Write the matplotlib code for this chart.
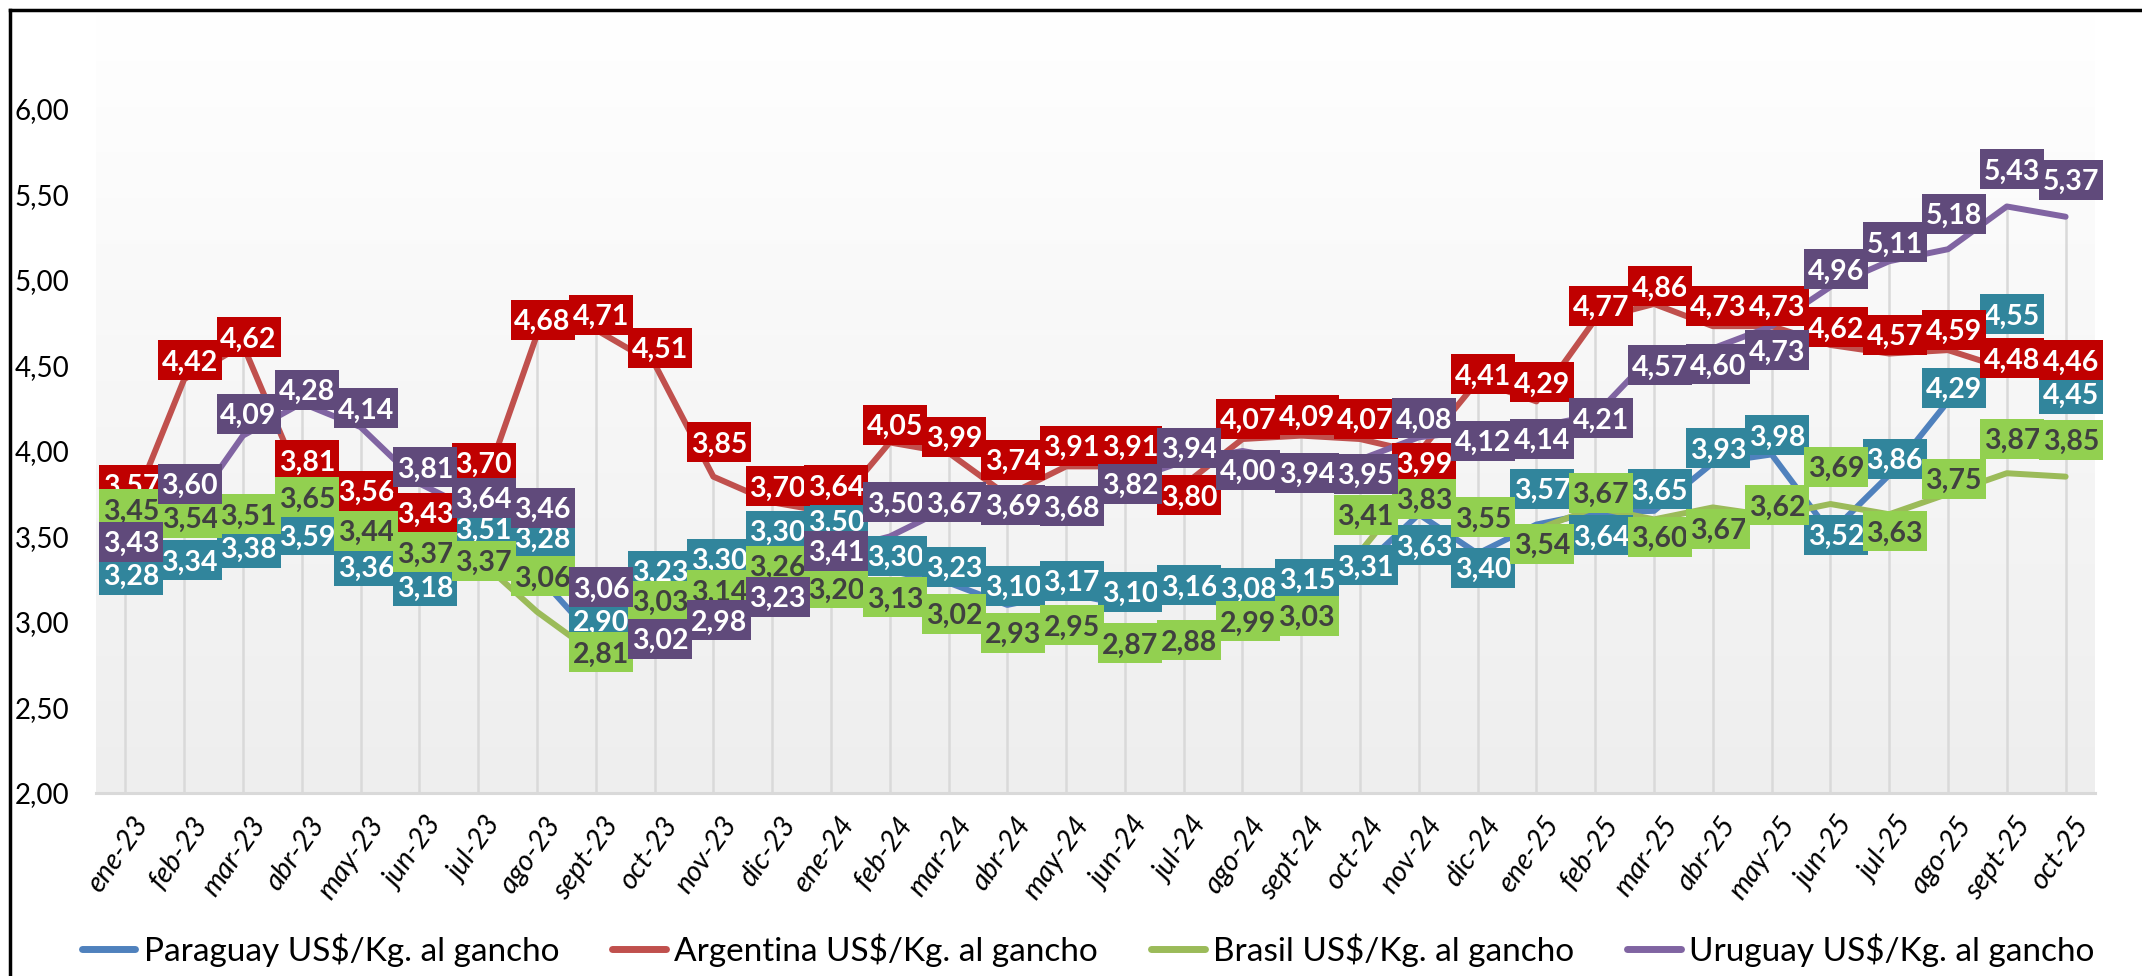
import numpy as np
import matplotlib
matplotlib.use('Agg')
import matplotlib.pyplot as plt
from matplotlib.lines import Line2D
from matplotlib.path import Path
from matplotlib import transforms
from matplotlib.colors import LinearSegmentedColormap

# precios US$/Kg. al gancho (ene-23 .. oct-25)
meses = ['ene-23', 'feb-23', 'mar-23', 'abr-23', 'may-23', 'jun-23', 'jul-23', 'ago-23',
         'sept-23', 'oct-23', 'nov-23', 'dic-23', 'ene-24', 'feb-24', 'mar-24', 'abr-24',
         'may-24', 'jun-24', 'jul-24', 'ago-24', 'sept-24', 'oct-24', 'nov-24', 'dic-24',
         'ene-25', 'feb-25', 'mar-25', 'abr-25', 'may-25', 'jun-25', 'jul-25', 'ago-25',
         'sept-25', 'oct-25']

paraguay = [3.28, 3.34, 3.38, 3.59, 3.36, 3.18, 3.51, 3.28, 2.90, 3.23, 3.30, 3.30,
            3.50, 3.30, 3.23, 3.10, 3.17, 3.10, 3.16, 3.08, 3.15, 3.31, 3.63, 3.40,
            3.57, 3.64, 3.65, 3.93, 3.98, 3.52, 3.86, 4.29, 4.55, 4.45]
argentina = [3.57, 4.42, 4.62, 3.81, 3.56, 3.43, 3.70, 4.68, 4.71, 4.51, 3.85, 3.70,
             3.64, 4.05, 3.99, 3.74, 3.91, 3.91, 3.80, 4.07, 4.09, 4.07, 3.99, 4.41,
             4.29, 4.77, 4.86, 4.73, 4.73, 4.62, 4.57, 4.59, 4.48, 4.46]
brasil = [3.45, 3.54, 3.51, 3.65, 3.44, 3.37, 3.37, 3.06, 2.81, 3.03, 3.14, 3.26,
          3.20, 3.13, 3.02, 2.93, 2.95, 2.87, 2.88, 2.99, 3.03, 3.41, 3.83, 3.55,
          3.54, 3.67, 3.60, 3.67, 3.62, 3.69, 3.63, 3.75, 3.87, 3.85]
uruguay = [3.43, 3.60, 4.09, 4.28, 4.14, 3.81, 3.64, 3.46, 3.06, 3.02, 2.98, 3.23,
           3.41, 3.50, 3.67, 3.69, 3.68, 3.82, 3.94, 4.00, 3.94, 3.95, 4.08, 4.12,
           4.14, 4.21, 4.57, 4.60, 4.73, 4.96, 5.11, 5.18, 5.43, 5.37]

# desplazamiento vertical de las etiquetas (puntos), como quedaron en la planilla
off_py = [-2, 1, 5, -12, -6, 2, 3, 25, 12, 7, 7, 27, 10, 9, 10, 12, 7, 8, 5, 13, 11, 1,
          -24, -12, 24, -18, 14, 9, 12, -3, 10, 8, 29, -16]
off_ar = [27, 12, 4, 15, 24, 24, 27, 9, 9, 10, 23, 10, 18, 11, 10, 24, 13, 13, -9, 13, 13,
          13, -9, 3, 12, 8, 11, 13, 13, 11, 12, 13, 6, 7]
off_br = [24, 7, 13, 8, 10, 3, -3, 24, 0, 10, 4, 7, -2, 0, 2, -1, 2, -1, 0, 0, -1, 25,
          -15, 6, -12, 9, -14, -17, 6, 25, -14, 9, 23, 25]
off_uy = [3, 24, 14, 8, 12, 10, 9, 24, 16, -16, 2, -12, -1, 23, 2, -2, -2, -3, 8, -15,
          -10, -12, 12, -9, -10, -4, -10, -13, -19, 11, 12, 24, 25, 25]

series = [
    ('Paraguay US$/Kg. al gancho', paraguay, '#4F81BD', '#31859C', 'white', off_py),
    ('Argentina US$/Kg. al gancho', argentina, '#C0504D', '#C00000', 'white', off_ar),
    ('Brasil US$/Kg. al gancho', brasil, '#9BBB59', '#92D050', '#404040', off_br),
    ('Uruguay US$/Kg. al gancho', uruguay, '#8064A2', '#604A7B', 'white', off_uy),
]

plt.rcParams['font.family'] = ['Lato', 'DejaVu Sans']


def caja(x0, y0, width, height, mutation_size):
    # recuadro de tamaño fijo (64x40 px) centrado en el texto
    cx = x0 + width / 2
    cy = y0 + height / 2 + 0.08 * mutation_size
    w, h = 32, 20
    return Path([(cx - w, cy - h), (cx + w, cy - h), (cx + w, cy + h), (cx - w, cy + h),
                 (cx - w, cy - h)], closed=True)


W, H = 2142, 976
fig = plt.figure(figsize=(W / 100, H / 100), dpi=100)
ax = fig.add_axes([96 / W, 1 - 793 / H, (2095 - 96) / W, (793 - 12) / H])

x = np.arange(len(meses))
ytop = 2 + (793 - 12) / 171.0
ax.set_xlim(-0.5, len(meses) - 0.5)
ax.set_ylim(2, ytop)

# fondo degradado del area de trazado
grad = LinearSegmentedColormap.from_list('fondo', ['#eeeeee', '#ffffff'])
ax.imshow(np.linspace(0, 1, 256).reshape(-1, 1), extent=[-0.5, len(meses) - 0.5, 2, ytop],
          aspect='auto', cmap=grad, origin='lower', zorder=0)

# lineas de caida desde el maximo de cada mes
tops = np.max(np.array([paraguay, argentina, brasil, uruguay]), axis=0)
ax.vlines(x, 2, tops, color='#d9d9d9', lw=1.8, zorder=1)

for k, (name, vals, lc, bc, tc, offs) in enumerate(series):
    ax.plot(x, vals, color=lc, lw=4.3, solid_capstyle='round', solid_joinstyle='round',
            zorder=5 + k, label=name)

for k, (name, vals, lc, bc, tc, offs) in enumerate(series):
    for i, v in enumerate(vals):
        ax.annotate(f'{v:.2f}'.replace('.', ','), (i, v), xytext=(4, offs[i]),
                    textcoords='offset points', ha='center', va='center',
                    fontsize=20.5, fontweight='bold', color=tc,
                    bbox=dict(boxstyle=caja, fc=bc, ec='none'),
                    zorder=20 + k, annotation_clip=False)

for s in ['top', 'right', 'left']:
    ax.spines[s].set_visible(False)
ax.spines['bottom'].set_color('#d9d9d9')
ax.spines['bottom'].set_linewidth(2.2)
ax.spines['bottom'].set_zorder(2)

ax.set_yticks([2, 2.5, 3, 3.5, 4, 4.5, 5, 5.5, 6])
ax.set_yticklabels([f'{t:.2f}'.replace('.', ',') for t in ax.get_yticks()], fontsize=20)
ax.tick_params(axis='y', length=0, pad=19)

ax.set_xticks(x)
ax.set_xticklabels(meses, rotation=55, ha='right', va='top', rotation_mode='anchor',
                   fontsize=20.5, style='italic')
ax.tick_params(axis='x', length=0, pad=14)
shift = transforms.ScaledTranslation(5 / 72, 0, fig.dpi_scale_trans)
for lab in ax.get_xticklabels():
    lab.set_transform(lab.get_transform() + shift)

handles = [Line2D([0], [0], color=lc, lw=5, solid_capstyle='round') for _, _, lc, _, _, _ in series]
fig.legend(handles, [s[0] for s in series], loc='center', bbox_to_anchor=(0.508, 1 - 950 / H),
           ncol=4, frameon=False, fontsize=24, handlelength=1.6, handletextpad=0.25,
           columnspacing=1.6)

# marco del grafico
fig.add_artist(Line2D([10 / W, 1], [1 - 10 / H, 1 - 10 / H], color='black', lw=2.5,
                      transform=fig.transFigure))
fig.add_artist(Line2D([10 / W, 10 / W], [0, 1 - 10 / H], color='black', lw=2.5,
                      transform=fig.transFigure))

fig.savefig('out.png', dpi=100)
